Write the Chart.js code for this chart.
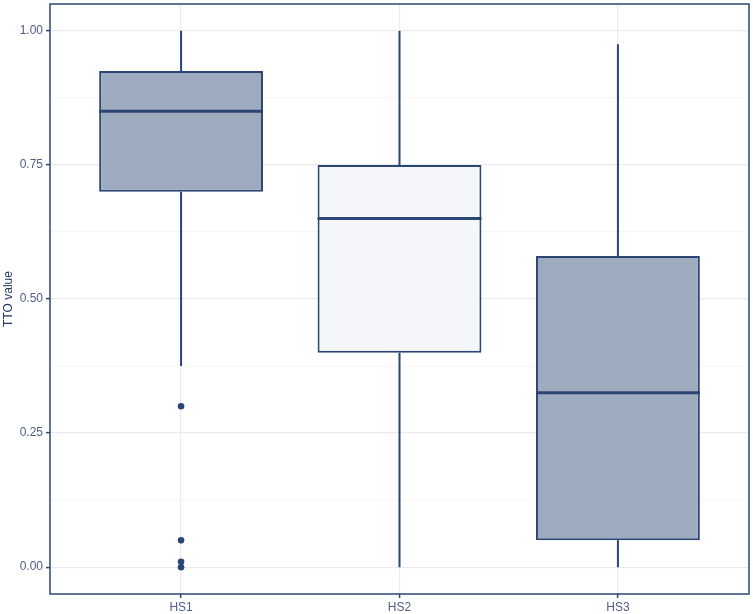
<!DOCTYPE html>
<html>
<head>
<meta charset="utf-8">
<script src="https://cdn.jsdelivr.net/npm/chart.js@4.4.1/dist/chart.umd.min.js"></script>
<style>
  html, body { margin: 0; padding: 0; background: #ffffff; }
  #wrap { width: 753px; height: 614px; }
</style>
</head>
<body>
<div id="wrap"><canvas id="c" width="753" height="614"></canvas></div>
<script>
// ---- data ----
const categories = ['HS1', 'HS2', 'HS3'];
const whiskerLow  = [0.375, 0.00, 0.00];
const q1Values    = [0.70, 0.40, 0.05];
const medians     = [0.85, 0.65, 0.325];
const q3Values    = [0.925, 0.75, 0.58];
const whiskerHigh = [1.00, 1.00, 0.975];
const outlierCategory = ['HS1', 'HS1', 'HS1', 'HS1'];
const outlierValues   = [0.30, 0.05, 0.01, 0.00];
const yTickValues = [0, 0.125, 0.25, 0.375, 0.5, 0.625, 0.75, 0.875, 1.0];
const yMajorTicks = [0, 0.25, 0.5, 0.75, 1.0];

// ---- styles ----
const NAVY = '#2b4675';
const boxFills = ['#9eaabd', '#f4f6f9', '#9eaabd'];
const HALF = 0.375;

const pos = c => categories.indexOf(c) + 1;
const isMajor = v => yMajorTicks.some(m => Math.abs(m - v) < 1e-9);

const boxData = categories.map((c, i) => ({ x: i + 1, y: [q1Values[i], q3Values[i]] }));
const medianData = [];
const whiskerData = [];
categories.forEach((c, i) => {
  const x = i + 1;
  medianData.push({ x: x - HALF, y: medians[i] }, { x: x + HALF, y: medians[i] }, { x: x + 0.5, y: null });
  whiskerData.push({ x: x, y: q3Values[i] }, { x: x, y: whiskerHigh[i] }, { x: x, y: null },
                   { x: x, y: q1Values[i] }, { x: x, y: whiskerLow[i] }, { x: x + 0.5, y: null });
});
const outlierData = outlierValues.map((v, i) => ({ x: pos(outlierCategory[i]), y: v }));

const panelBorder = {
  id: 'panelBorder',
  afterDatasetsDraw(chart) {
    const a = chart.chartArea, ctx = chart.ctx;
    ctx.save();
    ctx.strokeStyle = NAVY;
    ctx.lineWidth = 1.5;
    ctx.strokeRect(a.left, a.top, a.right - a.left, a.bottom - a.top);
    ctx.restore();
  }
};

new Chart(document.getElementById('c'), {
  data: {
    datasets: [
      {
        type: 'bar', label: 'box', data: boxData,
        backgroundColor: boxFills, borderColor: NAVY, borderWidth: 2,
        borderSkipped: false, barPercentage: 0.75, categoryPercentage: 1.0, order: 2
      },
      {
        type: 'line', label: 'whisker', data: whiskerData,
        borderColor: NAVY, borderWidth: 2, pointRadius: 0, spanGaps: false, order: 3
      },
      {
        type: 'line', label: 'median', data: medianData,
        borderColor: NAVY, borderWidth: 3, pointRadius: 0, spanGaps: false, order: 1
      },
      {
        type: 'scatter', label: 'outliers', data: outlierData,
        backgroundColor: NAVY, borderColor: NAVY, pointRadius: 3.3, borderWidth: 0, order: 0
      }
    ]
  },
  options: {
    responsive: false,
    animation: false,
    layout: { padding: { top: 3, right: 4, left: 0, bottom: 0 } },
    plugins: { legend: { display: false }, tooltip: { enabled: false } },
    scales: {
      x: {
        type: 'linear', min: 0.4, max: 3.6, offset: false,
        afterBuildTicks: s => { s.ticks = categories.map((c, i) => ({ value: i + 1 })); },
        afterFit: s => { s.height = 20; s.paddingLeft = 0; s.paddingRight = 0; },
        ticks: {
          callback: v => categories[Math.round(v) - 1] || '',
          color: '#4f5e86', font: { family: 'Liberation Sans', size: 12 }, padding: 2, maxRotation: 0
        },
        grid: { offset: false, color: '#e9ebf1', lineWidth: 1.2, tickLength: 4, tickColor: NAVY, tickWidth: 1.5 },
        border: { display: false }
      },
      y: {
        type: 'linear', min: -0.05, max: 1.05,
        afterBuildTicks: s => { s.ticks = yTickValues.map(v => ({ value: v })); },
        afterFit: s => { s.width = 50; s.paddingTop = 0; s.paddingBottom = 0; },
        ticks: {
          callback: v => isMajor(v) ? v.toFixed(2) : '',
          color: '#4f5e86', font: { family: 'Liberation Sans', size: 12 }, padding: 3
        },
        grid: {
          color: c => isMajor(c.tick.value) ? '#e9ebf1' : '#f3f4f8',
          lineWidth: c => isMajor(c.tick.value) ? 1.2 : 0.8,
          tickLength: 4,
          tickColor: c => isMajor(c.tick.value) ? NAVY : 'rgba(0,0,0,0)',
          tickWidth: 1.5
        },
        border: { display: false },
        title: {
          display: true, text: 'TTO value', color: '#1f3563',
          font: { family: 'Liberation Sans', size: 12 }, padding: { top: 1, bottom: 0 }
        }
      }
    }
  },
  plugins: [panelBorder]
});
</script>
</body>
</html>
